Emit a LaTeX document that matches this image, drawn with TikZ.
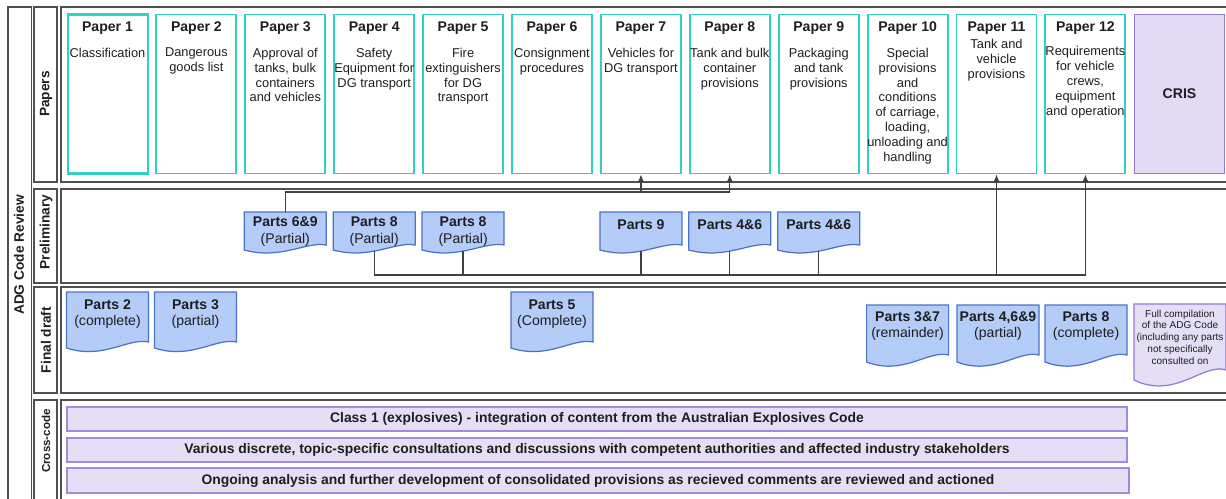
\documentclass[tikz,border=0pt]{standalone}
\usepackage{fontspec}
\setmainfont{Liberation Sans}
\usetikzlibrary{arrows.meta, positioning}

\definecolor{paperline}{RGB}{48,208,196}
\definecolor{crisline}{RGB}{150,118,212}
\definecolor{crisfill}{RGB}{226,219,243}
\definecolor{barline}{RGB}{164,138,220}
\definecolor{barfill}{RGB}{229,223,245}
\definecolor{docline}{RGB}{76,114,196}
\definecolor{docfill}{RGB}{180,204,248}
\definecolor{laneline}{RGB}{80,80,80}
\definecolor{inkgray}{RGB}{30,30,30}

\tikzset{
  lane/.style={draw=laneline, line width=0.6pt},
  lanelabel/.style={rotate=90, font=\fontsize{7.8}{9}\selectfont\bfseries, text=inkgray},
  paper/.style={draw=paperline, line width=1.1pt, minimum width=1.6cm, minimum height=3.18cm, inner sep=0pt},
  ptitle/.style={font=\fontsize{8}{9}\selectfont\bfseries, text=inkgray, inner sep=0pt},
  ptext/.style={anchor=north, align=center, font=\fontsize{7.3}{8.5}\selectfont, text=inkgray, inner sep=0pt},
  docu/.style={anchor=north, align=center, minimum width=1.64cm, inner sep=0pt, font=\fontsize{8}{9.3}\selectfont, text=inkgray},
  docoutline/.style={draw=docline, fill=docfill, line width=0.7pt},
  fulloutline/.style={draw=crisline, fill=barfill, line width=0.7pt},
  bar/.style={draw=barline, fill=barfill, line width=0.9pt, minimum height=0.48cm, inner sep=0pt, font=\fontsize{7.9}{9}\selectfont\bfseries, text=inkgray},
  conn/.style={draw=black!75, line width=0.7pt},
}

% wavy document outline: centre x, top, width, flat height, drop of left end
\newcommand{\docshape}[6][docoutline]{%
  \draw[#1] ({#2-#4/2},#3) -- ({#2+#4/2},#3) -- ({#2+#4/2},{#3+#5})
    .. controls ({#2+0.25*#4},{#3+#5-0.75*#6}) and ({#2-0.05*#4},{#3+#5+3*#6})
    .. ({#2-#4/2},{#3+#5+#6}) -- cycle;}

\begin{document}
\begin{tikzpicture}[x=0.02cm, y=-0.02cm, >={Latex[length=4.5pt,width=3.8pt]}]
\useasboundingbox (0,0) rectangle (1226,498);

% Swimlanes
\draw[lane] (8,7) rectangle (31.5,520);
\draw[lane] (34,7) rectangle (57,182);
\draw[lane] (61,7) rectangle (1240,182);
\draw[lane] (34,189) rectangle (57,283);
\draw[lane] (61,189) rectangle (1240,283);
\draw[lane] (34,287) rectangle (57,393);
\draw[lane] (61,287) rectangle (1240,393);
\draw[lane] (34,400) rectangle (57,520);
\draw[lane] (61,400) rectangle (1240,520);

% Papers
\node[paper, draw={rgb,255:red,48;green,208;blue,196}, line width=1.2pt] (paper1) at (107.8,94) {};
\node[ptitle] (title1) at (107.5,28.5) {Paper 1};
\node[ptext] (desc1) at (107.5,47.5) {Classification};
\node[paper] (paper2) at (196.4,94) {};
\node[ptitle] (title2) at (196.4,28.5) {Paper 2};
\node[ptext] (desc2) at (196.4,47.5) {Dangerous\\goods list};
\node[paper] (paper3) at (285.3,94) {};
\node[ptitle] (title3) at (285.3,28.5) {Paper 3};
\node[ptext] (desc3) at (285.3,47.5) {Approval of\\tanks, bulk\\containers\\and vehicles};
\node[paper] (paper4) at (374.2,94) {};
\node[ptitle] (title4) at (374.2,28.5) {Paper 4};
\node[ptext] (desc4) at (374.2,47.5) {Safety\\Equipment for\\DG transport};
\node[paper] (paper5) at (463.1,94) {};
\node[ptitle] (title5) at (463.1,28.5) {Paper 5};
\node[ptext] (desc5) at (463.1,47.5) {Fire\\extinguishers\\for DG\\transport};
\node[paper] (paper6) at (552,94) {};
\node[ptitle] (title6) at (552,28.5) {Paper 6};
\node[ptext] (desc6) at (552,47.5) {Consignment\\procedures};
\node[paper] (paper7) at (640.9,94) {};
\node[ptitle] (title7) at (640.9,28.5) {Paper 7};
\node[ptext] (desc7) at (640.9,47.5) {Vehicles for\\DG transport};
\node[paper] (paper8) at (729.8,94) {};
\node[ptitle] (title8) at (729.8,28.5) {Paper 8};
\node[ptext] (desc8) at (729.8,47.5) {Tank and bulk\\container\\provisions};
\node[paper] (paper9) at (818.7,94) {};
\node[ptitle] (title9) at (818.7,28.5) {Paper 9};
\node[ptext] (desc9) at (818.7,47.5) {Packaging\\and tank\\provisions};
\node[paper] (paper10) at (907.6,94) {};
\node[ptitle] (title10) at (907.6,28.5) {Paper 10};
\node[ptext] (desc10) at (907.6,47.5) {Special\\provisions\\and\\conditions\\of carriage,\\loading,\\unloading and\\handling};
\node[paper] (paper11) at (996.5,94) {};
\node[ptitle] (title11) at (996.5,28) {Paper 11};
\node[ptext] (desc11) at (996.5,38.8) {Tank and\\vehicle\\provisions};
\node[paper] (paper12) at (1085.4,94) {};
\node[ptitle] (title12) at (1085.4,28.5) {Paper 12};
\node[ptext] (desc12) at (1085.4,46) {Requirements\\for vehicle\\crews,\\equipment\\and operation};
\node[paper, draw=crisline, fill=crisfill, minimum width=1.8cm, font=\fontsize{8}{9}\selectfont\bfseries, text=inkgray] (cris) at (1179.5,94) {CRIS};

% Preliminary parts
\docshape{285.3}{212}{82}{33}{5}
\node[docu, minimum height=0.77cm] (p69) at (285.3,212) {\textbf{Parts 6\&9}\\(Partial)};
\docshape{374.2}{212}{82}{33}{5}
\node[docu, minimum height=0.77cm] (p8a) at (374.2,212) {\textbf{Parts 8}\\(Partial)};
\docshape{463.1}{212}{82}{33}{5}
\node[docu, minimum height=0.77cm] (p8b) at (463.1,212) {\textbf{Parts 8}\\(Partial)};
\docshape{640.9}{212}{82}{33}{5}
\node[docu, minimum height=0.77cm, text depth=8.2pt] (p9) at (640.9,212) {\textbf{Parts 9}};
\docshape{729.8}{212}{82}{33}{5}
\node[docu, minimum height=0.77cm, text depth=8.2pt] (p46a) at (729.8,212) {\textbf{Parts 4\&6}};
\docshape{818.7}{212}{82}{33}{5}
\node[docu, minimum height=0.77cm, text depth=8.2pt] (p46b) at (818.7,212) {\textbf{Parts 4\&6}};

% Final draft parts
\docshape{107.5}{292}{82}{50}{6}
\node[docu, minimum height=0.86cm] (f2) at (107.5,292) {\textbf{Parts 2}\\(complete)};
\docshape{195.5}{292}{82}{50}{6}
\node[docu, minimum height=0.86cm] (f3) at (195.5,292) {\textbf{Parts 3}\\(partial)};
\docshape{552}{292}{82}{50}{6}
\node[docu, minimum height=0.86cm] (f5) at (552,292) {\textbf{Parts 5}\\(Complete)};
\docshape{907.6}{305}{82}{50}{7}
\node[docu, minimum height=0.84cm] (f37) at (907.6,305) {\textbf{Parts 3\&7}\\(remainder)};
\docshape{998}{305}{82}{50}{7}
\node[docu, minimum height=0.84cm] (f469) at (998,305) {\textbf{Parts 4,6\&9}\\(partial)};
\docshape{1086}{305}{82}{50}{7}
\node[docu, minimum height=0.84cm] (f8) at (1086,305) {\textbf{Parts 8}\\(complete)};
\docshape[fulloutline]{1180}{304}{92}{66}{10}
\node[docu, minimum width=1.84cm, minimum height=1.32cm, font=\fontsize{5.7}{6.8}\selectfont] (full) at (1180,304) {Full compilation\\of the ADG Code\\(including any parts\\not specifically\\consulted on};

% Connectors to papers
\coordinate (up7) at (640.9,192);
\coordinate (up8) at (729.8,192);
\draw[conn, ->] (p69.north) |- (up8) -- (paper8.south);
\draw[conn, ->] (up7) -- (paper7.south);
\coordinate (low11) at (996.5,275);
\coordinate (low12) at (1085.4,275);
\draw[conn, ->] (p8a.south) |- (low12) -- (paper12.south);
\draw[conn, ->] (low11) -- (paper11.south);
\draw[conn] (p8b.south) -- (p8b.south |- low11);
\draw[conn] (p9.south) -- (p9.south |- low11);
\draw[conn] (p46a.south) -- (p46a.south |- low11);
\draw[conn] (p46b.south) -- (p46b.south |- low11);

% Cross-code bars
\node[bar, minimum width=21.2cm] (bar1) at (597,419) {Class 1 (explosives) - integration of content from the Australian Explosives Code};
\node[bar, minimum width=21.2cm] (bar2) at (597,450) {Various discrete, topic-specific consultations and discussions with competent authorities and affected industry stakeholders};
\node[bar, minimum width=21.24cm, minimum height=0.5cm] (bar3) at (598,480.5) {Ongoing analysis and further development of consolidated provisions as recieved comments are reviewed and actioned};

% Lane labels
\node[lanelabel] (adg) at (19,255) {ADG Code Review};
\node[lanelabel] (lpapers) at (46,94) {Papers};
\node[lanelabel] (lprelim) at (46,232) {Preliminary};
\node[lanelabel] (lfinal) at (46,340) {Final draft};
\node[lanelabel, font=\fontsize{6.6}{7}\selectfont\bfseries] (lcross) at (46,441) {Cross-code};

\end{tikzpicture}
\end{document}
